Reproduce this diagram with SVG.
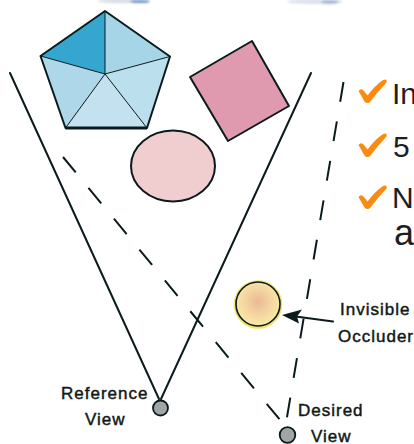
<svg xmlns="http://www.w3.org/2000/svg" width="414" height="444" viewBox="0 0 414 444">
  <defs>
    <radialGradient id="occluderFill" cx="0.5" cy="0.45" r="0.55">
      <stop offset="0" stop-color="#ECB896"/>
      <stop offset="0.55" stop-color="#F4D6A0"/>
      <stop offset="1" stop-color="#F9EAA6"/>
    </radialGradient>
    <filter id="soft" x="-50%" y="-200%" width="200%" height="500%">
      <feGaussianBlur stdDeviation="1.2"/>
    </filter>
    <path id="tick" d="M358.5,91 Q361,87.5 364,91 L367.5,95.5 Q375,85.5 383,80 Q387.5,78 386.5,82.5 Q377,92.5 370.5,101.5 Q367.5,104.5 364.5,101.5 Z"/>
  </defs>
  <style>
    .ray { fill: none; stroke: #0B1A1C; stroke-width: 2; stroke-linecap: round; }
    .dash { fill: none; stroke: #0B1A1C; stroke-width: 2; stroke-dasharray: 20 20; }
    .outline { stroke: #0B1A1C; stroke-width: 2; stroke-linejoin: round; }
    .inner { fill: none; stroke: #0B1A1C; stroke-width: 1; }
    .cam { fill: #A1A5A4; stroke: #0B1A1C; stroke-width: 1.8; }
    .lbl { font-family: "Liberation Sans", Arial, sans-serif; font-size: 17px; letter-spacing: 1px; fill: #101818; stroke: #101818; stroke-width: 0.45; }
    .bullet { font-family: "Liberation Sans", Arial, sans-serif; font-size: 30px; fill: #1E1E1E; }
    .check { fill: #F98B12; }
  </style>

  <rect width="414" height="444" fill="#FFFFFF"/>

  <!-- faint fragments along the top edge -->
  <g filter="url(#soft)">
    <ellipse cx="120" cy="1" rx="22" ry="2" fill="#D8DDE2"/>
    <ellipse cx="140" cy="1.5" rx="10" ry="1.6" fill="#6F97C8"/>
    <ellipse cx="315" cy="1.5" rx="28" ry="2.5" fill="#DCE3EA"/>
    <ellipse cx="330" cy="2" rx="9" ry="1.8" fill="#9FB8D6"/>
  </g>

  <!-- pentagon -->
  <g id="pentagon">
    <polygon points="105,11 40.5,56 105,74" fill="#34A6CF"/>
    <polygon points="105,11 170,56.5 105,74" fill="#A6D5E8"/>
    <polygon points="40.5,56 65.5,128 105,74" fill="#AED8EA"/>
    <polygon points="65.5,128 147,128 105,74" fill="#C3E1EF"/>
    <polygon points="147,128 170,56.5 105,74" fill="#BCDFEE"/>
    <path class="inner" d="M105,11 L105,74 M40.5,56 L105,74 L170,56.5 M65.5,128 L105,74 L147,128"/>
    <polygon class="outline" fill="none" points="105,11 170,56.5 147,128 65.5,128 40.5,56"/>
    <line x1="65.5" y1="128" x2="147" y2="128" stroke="#0B1A1C" stroke-width="3"/>
  </g>

  <!-- square -->
  <g id="square">
    <polygon class="outline" fill="#E09AAF" points="190,77 252,41 289,106 228,141"/>
  </g>

  <!-- ellipse -->
  <g id="ellipse">
    <ellipse class="outline" cx="173" cy="166" rx="42" ry="35.5" fill="#F0CDCF"/>
  </g>

  <!-- occluder -->
  <g id="occluder">
    <circle cx="258" cy="304.5" r="23" fill="none" stroke="#F2E36A" stroke-width="2.5"/>
    <circle cx="258" cy="304" r="22" fill="url(#occluderFill)" stroke="#0B1A1C" stroke-width="1.6"/>
  </g>

  <!-- sight lines -->
  <g id="connectors">
    <path class="ray" d="M10,73 L159,399"/>
    <path class="ray" d="M311,73 L161,399"/>
    <path class="dash" d="M63,157 L285,426"/>
    <path class="dash" d="M343.5,82 L285.5,426"/>
    <path class="ray" d="M333,321.5 L292,316"/>
    <polygon points="282,315 302,309.5 297,316.5 299,323.5" fill="#0B1A1C"/>
  </g>

  <!-- viewpoints -->
  <g id="reference-view">
    <circle class="cam" cx="160.5" cy="408" r="7.5"/>
    <text class="lbl" x="61" y="399">Reference</text>
    <text class="lbl" x="85" y="425">View</text>
  </g>
  <g id="desired-view">
    <circle class="cam" cx="287.5" cy="435" r="7.8"/>
    <text class="lbl" x="298" y="416">Desired</text>
    <text class="lbl" x="311" y="441.5">View</text>
  </g>
  <g id="occluder-label">
    <text class="lbl" x="340" y="315">Invisible</text>
    <text class="lbl" x="338" y="342">Occluder</text>
  </g>

  <!-- bullet list -->
  <g id="bullets">
    <use href="#tick" class="check"/>
    <text class="bullet" x="392" y="103.5">In</text>
    <use href="#tick" class="check" transform="translate(0,54)"/>
    <text class="bullet" x="393" y="157">5</text>
    <use href="#tick" class="check" transform="translate(0,106)"/>
    <text class="bullet" x="392" y="207.5">N</text>
    <text class="bullet" x="394" y="245" style="font-size:36px">a</text>
  </g>
</svg>
